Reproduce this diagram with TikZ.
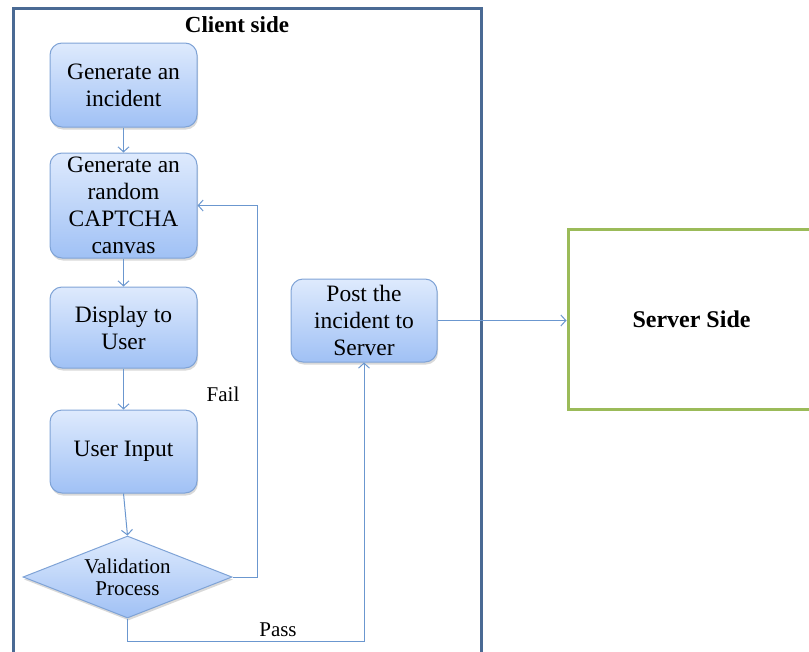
\documentclass[tikz,border=0pt]{standalone}
\usepackage{fontspec}
\setmainfont{Liberation Serif}
\usetikzlibrary{shapes.geometric,shadows,arrows.meta}
\definecolor{boxtop}{HTML}{DEEAFD}
\definecolor{boxbot}{HTML}{A0C1F5}
\definecolor{boxedge}{HTML}{7FA3D6}
\definecolor{flow}{HTML}{6B97CF}
\definecolor{clientedge}{HTML}{4A6A94}
\definecolor{serveredge}{HTML}{9BBB59}
\tikzset{
  stepbox/.style={draw=boxedge, line width=1pt, rounded corners=12pt,
    top color=boxtop, bottom color=boxbot, align=center,
    minimum width=147pt, inner sep=1pt,
    font=\fontsize{23.5}{27}\selectfont,
    drop shadow={opacity=0.3, shadow xshift=1pt, shadow yshift=-2.5pt}},
  decision/.style={diamond, draw=boxedge, line width=1pt,
    top color=boxtop, bottom color=boxbot, align=center,
    minimum width=209pt, minimum height=82pt, inner sep=0pt, aspect=2.55,
    font=\fontsize{21}{22}\selectfont,
    drop shadow={opacity=0.3, shadow xshift=1pt, shadow yshift=-2.5pt}},
  flowline/.style={draw=flow, line width=1pt,
    -{Straight Barb[length=5pt,width=11pt]}},
  lbl/.style={font=\fontsize{21}{25}\selectfont},
  sidetitle/.style={font=\bfseries\fontsize{23}{26}\selectfont}
}
\begin{document}
\begin{tikzpicture}[x=1pt,y=-1pt]
\useasboundingbox (0,0) rectangle (809,651);
\clip (0,0) rectangle (809,651);

% client area, open at the bottom
\draw[clientedge, line width=3pt] (13,660) -- (13,8) -- (481,8) -- (481,660);
\node[sidetitle] (client) at (237,25) {Client side};

% server area
\node[draw=serveredge, line width=3pt, minimum width=247pt, minimum height=180pt,
      sidetitle, font=\bfseries\fontsize{24}{26}\selectfont, inner sep=0pt] (server) at (691.5,319) {Server Side};

% flow steps
\node[stepbox, minimum height=84pt] (gen) at (123.5,85) {Generate an\\incident};
\node[stepbox, minimum height=105pt] (captcha) at (123.5,205.5) {Generate an\\random\\CAPTCHA\\canvas};
\node[stepbox, minimum height=81pt] (disp) at (123.5,327.5) {Display to\\User};
\node[stepbox, minimum height=83pt] (input) at (123.5,451.5) {User Input};
\node[decision] (valid) at (127.5,577) {Validation\\Process};
\node[stepbox, minimum width=146pt, minimum height=83pt] (post) at (364,320.5) {Post the\\incident to\\Server};

% connectors
\draw[flowline] (gen.south) -- (captcha.north);
\draw[flowline] (captcha.south) -- (disp.north);
\draw[flowline] (disp.south) -- (input.north);
\draw[flowline] (input.south) -- (valid.north);
\coordinate (failturn) at (257,577);
\draw[flowline] (valid.east) -- (failturn) |- (captcha.east);
\coordinate (passturn) at (364,641);
\draw[flowline] (valid.south) |- (passturn) -- (post.south);
\draw[flowline] (post.east) -- (post.east -| server.west);

% branch labels
\node[lbl] (fail) at (223,394) {Fail};
\node[lbl] (pass) at (278,630) {Pass};
\end{tikzpicture}
\end{document}
